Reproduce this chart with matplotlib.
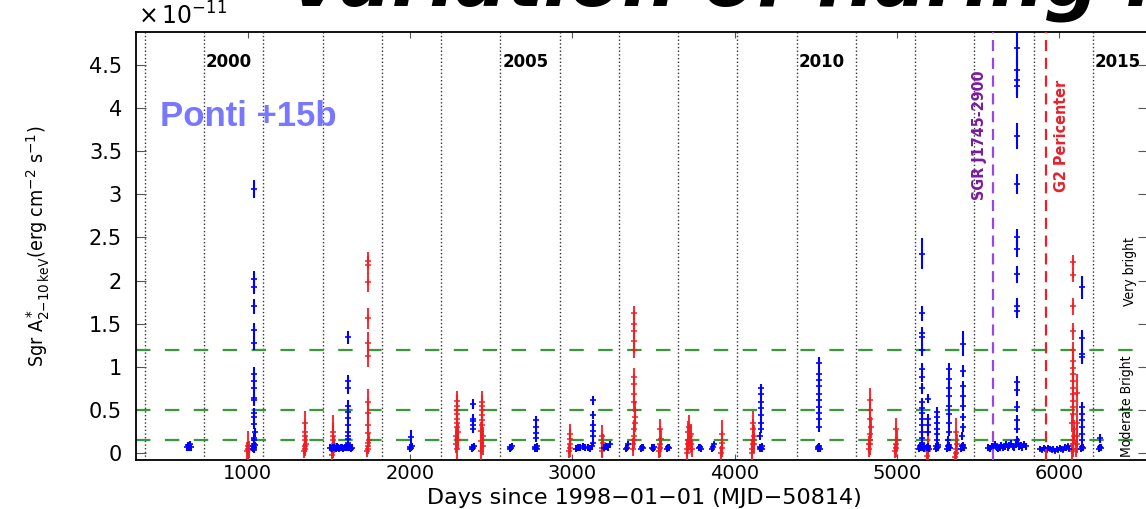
import numpy as np
import matplotlib
matplotlib.use('Agg')
import matplotlib.pyplot as plt
from matplotlib import font_manager

# ---- data (flux in units of 1e-11 erg/cm2/s, days since 1998-01-01) ----
# blue observations
blue_day = [
    626, 630, 634, 638, 642, 646,
    1032, 1034, 1036, 1038, 1040, 1042, 1035, 1037, 1039, 1041, 1036, 1038,
    1040, 1037, 1039, 1036, 1038, 1040, 1037, 1039, 1038, 1036, 1039, 1038,
    1508, 1516, 1524, 1532, 1540, 1548, 1556, 1564, 1572, 1580, 1588, 1596,
    1604, 1612, 1620, 1628, 1636, 1644,
    1614, 1616, 1618, 1620, 1617, 1619, 1615, 1618, 1616, 1619, 1617,
    1998, 2002, 2006, 2010, 2004,
    2380, 2384, 2388, 2392, 2386, 2388, 2390, 2387, 2389,
    2614, 2618, 2622, 2626,
    2768, 2772, 2776, 2780, 2784, 2775, 2777, 2779, 2776,
    3020, 3035, 3050, 3065, 3080, 3095, 3110, 3120, 3125, 3128, 3126, 3127,
    3129, 3127,
    3194, 3206, 3218, 3230,
    3333, 3338, 3341, 3425, 3430, 3434, 3493, 3498, 3502, 3586, 3590, 3594,
    3782, 3787, 3792, 3861, 3866, 3871,
    4155, 4159, 4163, 4167, 4171, 4160, 4162, 4164, 4166, 4161, 4163, 4165,
    4163,
    4514, 4517, 4520, 4523, 4526, 4519, 4520, 4521, 4519, 4520, 4521, 4520,
    4519, 4521, 4520,
    5138, 5142, 5146, 5150, 5154, 5158, 5162, 5166, 5170,
    5153, 5157, 5155, 5153, 5157, 5155, 5156, 5155, 5154, 5156, 5155, 5154,
    5156, 5155, 5155,
    5186, 5190, 5194, 5198, 5192, 5192, 5192, 5192,
    5240, 5244, 5248, 5252, 5256, 5246, 5248, 5250, 5248, 5247, 5249,
    5312, 5316, 5320, 5324, 5328, 5318, 5322, 5320, 5324, 5321, 5323, 5322,
    5320, 5322,
    5398, 5402, 5406, 5410, 5414, 5404, 5408, 5406, 5410, 5407, 5409, 5408,
    5408,
    5565, 5575, 5585, 5595, 5605, 5615, 5625, 5635, 5645, 5655, 5665, 5675,
    5685, 5695, 5705, 5715, 5725, 5735, 5745, 5755, 5765, 5775, 5785, 5795,
    5740, 5742, 5741, 5739, 5743, 5741, 5740, 5742, 5741, 5740, 5742, 5741,
    5740, 5742, 5741, 5740, 5742,
    5885, 5895, 5905, 5915, 5925, 5935, 5945, 5955, 5965, 5975, 5985, 5995,
    6005, 6015, 6025, 6035, 6045, 6055, 6065,
    6138, 6142, 6146, 6140, 6144, 6142, 6141, 6143, 6142, 6142, 6142, 6142,
    6142,
    6249, 6253, 6257, 6253,
]
blue_flux = [
    0.07, 0.09, 0.06, 0.08, 0.10, 0.07,
    0.05, 0.08, 0.04, 0.07, 0.06, 0.09, 0.11, 0.15, 0.18, 0.24, 0.34, 0.42,
    0.46, 0.61, 0.64, 0.75, 0.84, 0.92, 1.28, 1.43, 1.70, 1.93, 2.02, 3.06,
    0.06, 0.05, 0.07, 0.06, 0.05, 0.08, 0.06, 0.05, 0.07, 0.06, 0.05, 0.06,
    0.07, 0.08, 0.06, 0.07, 0.05, 0.06,
    0.12, 0.16, 0.20, 0.25, 0.33, 0.41, 0.48, 0.55, 0.75, 0.84, 1.34,
    0.05, 0.07, 0.06, 0.08, 0.19,
    0.05, 0.07, 0.06, 0.08, 0.28, 0.32, 0.37, 0.40, 0.57,
    0.05, 0.07, 0.06, 0.08,
    0.05, 0.07, 0.06, 0.08, 0.05, 0.18, 0.23, 0.30, 0.38,
    0.05, 0.07, 0.06, 0.08, 0.06, 0.07, 0.05, 0.08, 0.12, 0.20, 0.26, 0.33,
    0.44, 0.61,
    0.06, 0.08, 0.07, 0.10,
    0.05, 0.06, 0.11, 0.05, 0.07, 0.06, 0.06, 0.05, 0.07, 0.05, 0.07, 0.06,
    0.06, 0.07, 0.05, 0.05, 0.07, 0.10,
    0.05, 0.07, 0.06, 0.08, 0.05, 0.20, 0.28, 0.35, 0.44, 0.52, 0.59, 0.69,
    0.75,
    0.05, 0.07, 0.06, 0.08, 0.05, 0.30, 0.40, 0.46, 0.53, 0.61, 0.69, 0.78,
    0.85, 0.92, 1.04,
    0.05, 0.08, 0.06, 0.09, 0.07, 0.12, 0.06, 0.08, 0.05,
    0.18, 0.25, 0.32, 0.40, 0.47, 0.52, 0.59, 0.75, 0.88, 0.98, 1.20, 1.34,
    1.39, 1.62, 2.31,
    0.06, 0.08, 0.07, 0.05, 0.25, 0.32, 0.40, 0.63,
    0.05, 0.08, 0.06, 0.09, 0.07, 0.15, 0.22, 0.28, 0.35, 0.42, 0.48,
    0.05, 0.08, 0.07, 0.09, 0.06, 0.15, 0.25, 0.35, 0.45, 0.55, 0.66, 0.76,
    0.86, 0.98,
    0.05, 0.08, 0.07, 0.09, 0.06, 0.20, 0.30, 0.42, 0.55, 0.66, 0.78, 0.95,
    1.27,
    0.06, 0.05, 0.08, 0.07, 0.10, 0.06, 0.05, 0.07, 0.09, 0.06, 0.08, 0.10,
    0.07, 0.09, 0.11, 0.08, 0.07, 0.10, 0.12, 0.08, 0.09, 0.07, 0.10, 0.08,
    0.15, 0.28, 0.38, 0.54, 0.73, 0.82, 1.65, 1.71, 2.07, 2.37, 2.50, 3.12,
    3.67, 4.26, 4.32, 4.44, 4.70,
    0.05, 0.04, 0.06, 0.05, 0.04, 0.06, 0.05, 0.04, 0.05, 0.03, 0.05, 0.04,
    0.06, 0.05, 0.04, 0.07, 0.06, 0.08, 0.05,
    0.05, 0.07, 0.06, 0.15, 0.22, 0.30, 0.38, 0.45, 0.53, 1.11, 1.15, 1.33,
    1.92,
    0.05, 0.07, 0.06, 0.17,
]
blue_err = [
    0.04, 0.04, 0.04, 0.04, 0.04, 0.04,
    0.04, 0.04, 0.04, 0.04, 0.04, 0.04, 0.04, 0.05, 0.05, 0.05, 0.06, 0.06,
    0.06, 0.06, 0.06, 0.07, 0.07, 0.08, 0.08, 0.08, 0.09, 0.09, 0.09, 0.10,
    0.04, 0.04, 0.04, 0.04, 0.04, 0.04, 0.04, 0.04, 0.04, 0.04, 0.04, 0.04,
    0.04, 0.04, 0.04, 0.04, 0.04, 0.04,
    0.05, 0.05, 0.05, 0.05, 0.06, 0.06, 0.06, 0.06, 0.07, 0.07, 0.07,
    0.04, 0.04, 0.04, 0.04, 0.08,
    0.04, 0.04, 0.04, 0.04, 0.05, 0.05, 0.05, 0.05, 0.06,
    0.04, 0.04, 0.04, 0.04,
    0.04, 0.04, 0.04, 0.04, 0.04, 0.05, 0.05, 0.05, 0.05,
    0.04, 0.04, 0.04, 0.04, 0.04, 0.04, 0.04, 0.04, 0.04, 0.05, 0.05, 0.05,
    0.05, 0.05,
    0.04, 0.04, 0.04, 0.04,
    0.04, 0.04, 0.03, 0.04, 0.04, 0.04, 0.04, 0.04, 0.04, 0.04, 0.04, 0.04,
    0.04, 0.04, 0.04, 0.04, 0.04, 0.03,
    0.04, 0.04, 0.04, 0.04, 0.04, 0.05, 0.05, 0.05, 0.05, 0.05, 0.05, 0.05,
    0.05,
    0.04, 0.04, 0.04, 0.04, 0.04, 0.05, 0.05, 0.05, 0.05, 0.05, 0.06, 0.06,
    0.06, 0.06, 0.07,
    0.04, 0.04, 0.04, 0.04, 0.04, 0.04, 0.04, 0.04, 0.04,
    0.05, 0.05, 0.05, 0.05, 0.05, 0.05, 0.05, 0.06, 0.06, 0.06, 0.07, 0.07,
    0.07, 0.09, 0.18,
    0.04, 0.04, 0.04, 0.04, 0.05, 0.05, 0.05, 0.05,
    0.04, 0.04, 0.04, 0.04, 0.04, 0.05, 0.05, 0.05, 0.05, 0.05, 0.05,
    0.04, 0.04, 0.04, 0.04, 0.04, 0.05, 0.05, 0.05, 0.05, 0.05, 0.06, 0.06,
    0.06, 0.06,
    0.04, 0.04, 0.04, 0.04, 0.04, 0.05, 0.05, 0.05, 0.06, 0.06, 0.06, 0.07,
    0.15,
    0.04, 0.04, 0.04, 0.04, 0.04, 0.04, 0.04, 0.04, 0.04, 0.04, 0.04, 0.04,
    0.04, 0.04, 0.04, 0.04, 0.04, 0.04, 0.05, 0.04, 0.04, 0.04, 0.04, 0.04,
    0.05, 0.05, 0.06, 0.06, 0.07, 0.07, 0.09, 0.09, 0.10, 0.10, 0.10, 0.12,
    0.15, 0.15, 0.15, 0.15, 0.20,
    0.03, 0.03, 0.03, 0.03, 0.03, 0.03, 0.03, 0.03, 0.03, 0.03, 0.03, 0.03,
    0.03, 0.03, 0.03, 0.03, 0.03, 0.03, 0.03,
    0.04, 0.04, 0.04, 0.05, 0.05, 0.05, 0.06, 0.06, 0.06, 0.08, 0.08, 0.10,
    0.13,
    0.04, 0.04, 0.04, 0.05,
]

# red observations
red_day = [
    996, 1000, 1004, 1000,
    1346, 1349, 1352, 1355, 1350, 1353, 1351, 1351,
    1520, 1522, 1524, 1526, 1528, 1523, 1525, 1524,
    1736, 1738, 1740, 1742, 1744, 1739, 1741, 1740, 1739, 1741, 1740, 1740,
    1739, 1741, 1740,
    2282, 2296, 2284, 2294, 2286, 2292, 2288, 2290, 2289, 2291, 2287, 2289,
    2436, 2450, 2438, 2448, 2440, 2446, 2442, 2444, 2443, 2445, 2441,
    2981, 2984, 2987, 2985, 2986,
    3180, 3183, 3186, 3183,
    3374, 3376, 3378, 3380, 3382, 3384, 3386, 3388, 3379, 3381, 3380, 3381,
    3380, 3379, 3381, 3380, 3380,
    3536, 3539, 3542, 3545, 3540,
    3705, 3710, 3715, 3720, 3725, 3730, 3735, 3712, 3722, 3732,
    3918, 3921, 3924, 3922,
    4105, 4108, 4111, 4114, 4117, 4120, 4112, 4115,
    4828, 4831, 4834, 4837, 4840, 4833, 4836, 4835, 4834,
    4990, 4993, 4996, 4999, 4995,
    5188, 5191, 5194, 5192,
    5360, 5363, 5366, 5369, 5364,
    6082, 6084, 6086, 6088, 6090, 6092, 6083, 6085, 6087, 6089, 6086, 6085,
    6087, 6086, 6085, 6087, 6086, 6085, 6086, 6087, 6086,
    6108, 6111, 6114, 6111, 6111,
]
red_flux = [
    0.03, 0.05, 0.04, 0.08,
    0.02, 0.05, 0.08, 0.11, 0.15, 0.20, 0.24, 0.35,
    -0.02, 0.02, 0.05, 0.08, 0.10, 0.15, 0.20, 0.25,
    0.02, 0.05, 0.08, 0.12, 0.15, 0.23, 0.32, 0.46, 0.59, 1.12, 1.28, 1.56,
    1.98, 2.18, 2.23,
    0.10, 0.15, 0.20, 0.25, 0.30, 0.35, 0.40, 0.45, 0.50, 0.55, 0.60, 0.05,
    0.02, 0.08, 0.14, 0.20, 0.26, 0.32, 0.38, 0.44, 0.50, 0.55, 0.59,
    0.02, 0.06, 0.10, 0.16, 0.22,
    0.02, 0.06, 0.12, 0.20,
    0.05, 0.10, 0.15, 0.20, 0.28, 0.35, 0.42, 0.50, 0.59, 0.69, 0.80, 0.88,
    1.20, 1.30, 1.42, 1.50, 1.62,
    0.02, 0.06, 0.10, 0.16, 0.28,
    0.00, 0.05, 0.10, 0.15, 0.20, 0.10, 0.05, 0.25, 0.30, 0.22,
    0.00, 0.06, 0.12, 0.22,
    0.00, 0.05, 0.10, 0.15, 0.20, 0.10, 0.28, 0.35,
    0.05, 0.10, 0.15, 0.22, 0.30, 0.40, 0.50, 0.62, 0.10,
    0.02, 0.06, 0.10, 0.15, 0.28,
    -0.03, 0.02, 0.08, 0.25,
    -0.05, 0.00, 0.05, 0.10, 0.25,
    0.02, 0.05, 0.10, 0.15, 0.20, 0.28, 0.35, 0.45, 0.54, 0.60, 0.69, 0.76,
    0.84, 0.92, 0.99, 1.07, 1.19, 1.41, 1.70, 2.06, 2.21,
    0.05, 0.10, 0.20, 0.35, 0.70,
]
red_err = [
    0.10, 0.08, 0.10, 0.18,
    0.08, 0.08, 0.10, 0.10, 0.12, 0.12, 0.12, 0.14,
    0.06, 0.08, 0.08, 0.10, 0.10, 0.15, 0.15, 0.19,
    0.06, 0.06, 0.07, 0.07, 0.08, 0.10, 0.12, 0.13, 0.15, 0.12, 0.12, 0.12,
    0.11, 0.10, 0.10,
    0.10, 0.10, 0.10, 0.10, 0.10, 0.11, 0.11, 0.11, 0.11, 0.12, 0.12, 0.12,
    0.10, 0.10, 0.10, 0.10, 0.10, 0.11, 0.11, 0.11, 0.12, 0.12, 0.13,
    0.08, 0.10, 0.10, 0.12, 0.12,
    0.08, 0.10, 0.10, 0.13,
    0.08, 0.08, 0.09, 0.09, 0.10, 0.10, 0.10, 0.10, 0.11, 0.11, 0.11, 0.11,
    0.10, 0.10, 0.10, 0.10, 0.08,
    0.08, 0.10, 0.10, 0.12, 0.12,
    0.10, 0.10, 0.10, 0.10, 0.12, 0.10, 0.10, 0.12, 0.14, 0.12,
    0.08, 0.10, 0.12, 0.16,
    0.10, 0.10, 0.10, 0.10, 0.12, 0.10, 0.12, 0.14,
    0.10, 0.10, 0.10, 0.11, 0.12, 0.12, 0.13, 0.14, 0.12,
    0.08, 0.10, 0.10, 0.12, 0.13,
    0.08, 0.10, 0.10, 0.16,
    0.08, 0.10, 0.10, 0.12, 0.16,
    0.10, 0.10, 0.10, 0.10, 0.10, 0.10, 0.10, 0.10, 0.10, 0.10, 0.10, 0.10,
    0.10, 0.10, 0.10, 0.10, 0.10, 0.10, 0.10, 0.08, 0.08,
    0.10, 0.10, 0.12, 0.15, 0.22,
]

grid_years = list(range(1999, 2016))
labelled_years = [2000, 2005, 2010, 2015]
flux_levels = [0.15, 0.5, 1.2]
sgr_magnetar_day = 5593
g2_pericenter_day = 5920
xticks = [1000, 2000, 3000, 4000, 5000, 6000]
yticks = [0, 0.5, 1, 1.5, 2, 2.5, 3, 3.5, 4, 4.5]
ytick_labels = ['0', '0.5', '1', '1.5', '2', '2.5', '3', '3.5', '4', '4.5']


# ---- fonts: look for a narrow/condensed face for the rotated labels ----
def find_narrow(bold):
    best = None
    for f in font_manager.fontManager.ttflist:
        name = f.name.lower()
        narrowish = ('narrow' in name or 'condensed' in name
                     or str(f.stretch) in ('condensed', 'semi-condensed',
                                           'extra-condensed'))
        if not narrowish or f.style != 'normal':
            continue
        w = f.weight if isinstance(f.weight, int) else (
            700 if 'bold' in str(f.weight) else 400)
        if (w >= 600) == bold:
            if best is None or 'liberation' in name:
                best = f
    return font_manager.FontProperties(fname=best.fname) if best else None


narrow_reg = find_narrow(False)
narrow_bold = find_narrow(True)
if narrow_reg is None:
    narrow_reg = font_manager.FontProperties(family='DejaVu Sans')
if narrow_bold is None:
    narrow_bold = font_manager.FontProperties(family='DejaVu Sans',
                                              weight='bold')

plt.rcParams['font.family'] = ['DejaVu Sans']
plt.rcParams['mathtext.fontset'] = 'dejavusans'

year_days = (np.array([f'{y}-01-01' for y in grid_years], dtype='datetime64[D]')
             - np.datetime64('1998-01-01', 'D')).astype(int)

fig = plt.figure(figsize=(11.46, 5.09), dpi=100)
ax = fig.add_axes([136 / 1146, 49 / 509, 1012 / 1146, 428 / 509])

for d in year_days:
    ax.axvline(d, color='#333333', ls=':', lw=1.0, zorder=1)
for lev in flux_levels:
    ax.axhline(lev, color='#3a9a3a', lw=1.6, dashes=(6.5, 6.5), zorder=2)

ax.errorbar(red_day, red_flux, yerr=red_err, fmt='+', color='#f01e23',
            ecolor='#f01e23', ms=4, mew=1.2, elinewidth=1.5, capsize=0,
            alpha=0.9, zorder=3)
ax.errorbar(blue_day, blue_flux, yerr=blue_err, fmt='+', color='#0000ff',
            ecolor='#0000ff', ms=4, mew=1.2, elinewidth=1.5, capsize=0,
            zorder=4)

ax.axvline(sgr_magnetar_day, color='#9b45e6', lw=1.6, dashes=(5, 3), zorder=5)
ax.axvline(g2_pericenter_day, color='#e8202a', lw=1.6, dashes=(5, 3), zorder=5)

for y, d in zip(grid_years, year_days):
    if y in labelled_years:
        ax.text(d + 12, 4.53, str(y), fontsize=12, fontweight='bold',
                ha='left', va='center')


def label_props(base, size):
    p = base.copy()
    p.set_size(size)
    return p


ax.text(5513, 3.68, 'SGR J1745-2900', rotation=90, ha='center', va='center',
        color='#7a1aa0', fontproperties=label_props(narrow_bold, 11.5))
ax.text(6018, 3.68, 'G2 Pericenter', rotation=90, ha='center', va='center',
        color='#e8202a', fontproperties=label_props(narrow_bold, 11.5))
ax.text(6438, 2.1, 'Very bright', rotation=90, ha='center', va='center',
        fontproperties=label_props(narrow_reg, 10))
ax.text(6419, 0.54, 'Moderate Bright', rotation=90, ha='center', va='center',
        fontproperties=label_props(narrow_reg, 10))
ax.text(457, 3.9, 'Ponti +15b', color='#7777ff', fontsize=25,
        fontweight='bold', family='Liberation Sans', ha='left', va='center')

ax.set_xlim(310, 6549)
ax.set_ylim(-0.08, 4.88)
ax.set_xticks(xticks)
ax.set_yticks(yticks)
ax.set_yticklabels(ytick_labels)
ax.tick_params(axis='both', direction='in', top=True, right=True,
               color='#555555')
ax.tick_params(axis='y', length=7, pad=10, labelsize=15)
ax.tick_params(axis='x', length=4, pad=3, labelsize=14)
for s in ax.spines.values():
    s.set_linewidth(1.3)

ax.set_xlabel('Days since 1998\u221201\u221201 (MJD\u221250814)', fontsize=16,
              va='center')
ax.xaxis.set_label_coords(0.502, -0.088)
ax.set_ylabel(r'Sgr A$^*_{2\mathregular{-}10\,\mathregular{keV}}$(erg cm$^{-2}$ s$^{-1}$)',
              fontproperties=label_props(narrow_reg, 14), ha='center',
              va='center')
ax.yaxis.set_label_coords(-0.097, 0.5)

fig.text(138 / 1146, 1 - 25 / 509, r'$\times\,10^{-11}$', fontsize=17,
         va='baseline', ha='left')
fig.text(287 / 1146, 1 - 6 / 509, 'Variation of flaring rate', fontsize=55,
         fontweight='bold', style='italic', va='baseline', ha='left')

fig.savefig('out.png', dpi=100)
